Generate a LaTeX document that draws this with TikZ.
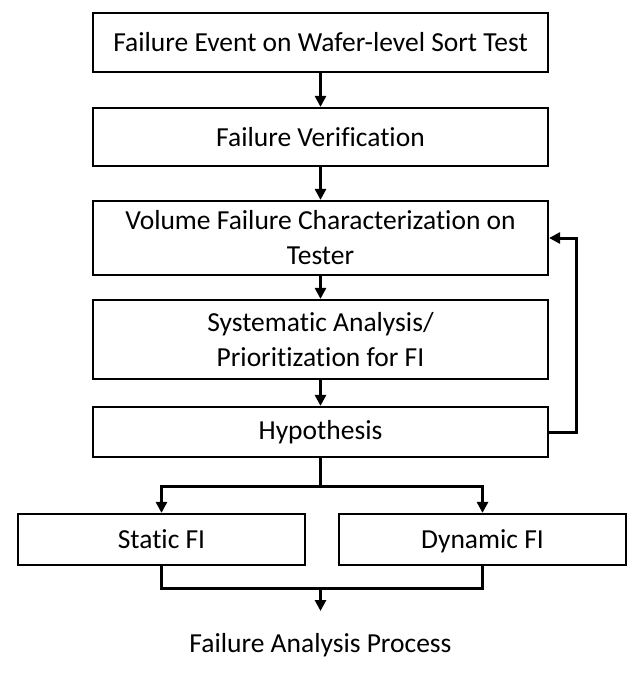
\documentclass[tikz,border=0pt]{standalone}
\usepackage{fontspec}
\setmainfont[Ligatures=NoCommon]{Carlito}
\usetikzlibrary{arrows.meta}

\begin{document}
\begin{tikzpicture}[x=1pt,y=-1pt,
    box/.style={draw,line width=2.2pt,minimum width=455pt,inner sep=0pt,align=center,font=\fontsize{27.5}{35}\selectfont},
    fibox/.style={box,minimum width=287pt,minimum height=51pt,text height=23pt,text depth=6pt},
    link/.style={line width=3pt},
    flow/.style={link,-{Triangle[length=11pt,width=11pt]}}]
    \useasboundingbox (0,0) rectangle (642,675);
    \node[box,minimum height=59pt] (event) at (320.5,42.5) {Failure Event on Wafer-level Sort Test};
    \node[box,minimum height=58pt] (verify) at (320.5,137) {Failure Verification};
    \node[box,minimum height=74pt] (volume) at (320.5,238) {Volume Failure Characterization on\\Tester};
    \node[box,minimum height=79pt] (system) at (320.5,339.5) {Systematic Analysis/\\Prioritization for FI};
    \node[box,minimum height=50pt] (hypo) at (320.5,432) {Hypothesis};
    \node[fibox] (static) at (161.5,539.5) {Static FI};
    \node[fibox] (dynamic) at (482.5,539.5) {Dynamic FI};
    \node[font=\fontsize{27.5}{35}\selectfont] (fap) at (320.5,645) {Failure Analysis Process};
    \coordinate (split) at (320.5,486);
    \coordinate (join) at (320.5,588);
    \coordinate (tip) at (320.5,611);
    % down the main column
    \draw[flow] (event) -- (verify);
    \draw[flow] (verify) -- (volume);
    \draw[flow] (volume) -- (system);
    \draw[flow] (system) -- (hypo);
    % loop back to the tester
    \draw[flow] (hypo.east) -- ++(27,0) |- (volume.east);
    % split into the two FI boxes
    \draw[link] (hypo) -- (split);
    \draw[flow] (split) -| (static.north);
    \draw[flow] (split) -| (dynamic.north);
    % join below
    \draw[link] (static.south) |- (join) -| (dynamic.south);
    \draw[flow] (join) -- (tip);
\end{tikzpicture}
\end{document}
